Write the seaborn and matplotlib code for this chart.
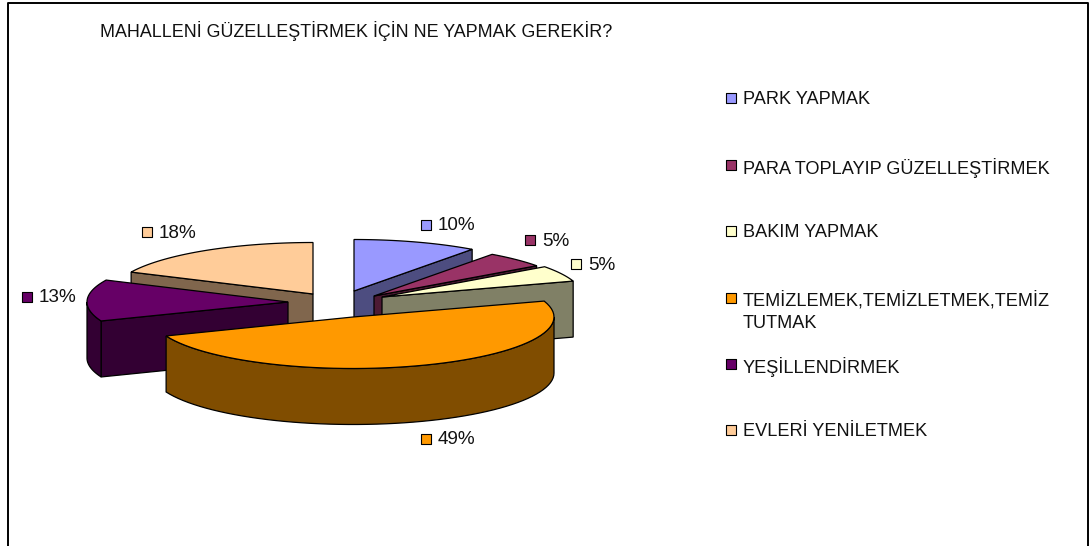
import matplotlib.pyplot as plt
import numpy as np
import seaborn as sns
from matplotlib.patches import Polygon

categories = [
    "PARK YAPMAK",
    "PARA TOPLAYIP GÜZELLEŞTİRMEK",
    "BAKIM YAPMAK",
    "TEMİZLEMEK,TEMİZLETMEK,TEMİZ\nTUTMAK",
    "YEŞİLLENDİRMEK",
    "EVLERİ YENİLETMEK",
]
shares = [10, 5, 5, 49, 13, 18]
colors = ["#9999FF", "#993366", "#FFFFCC", "#FF9900", "#660066", "#FFCC99"]
title = "MAHALLENİ GÜZELLEŞTİRMEK İÇİN NE YAPMAK GEREKİR?"

# layout in image pixels, y going down
apexes = [(354, 291), (374, 296), (382, 297), (353, 317), (288, 302), (313, 294)]
draw_order = [5, 0, 1, 2, 4, 3]
rx, ry, depth = 201, 51.5, 56
label_pos = [(426, 225), (530, 240), (576, 264), (426, 439), (27, 297), (147, 232)]
legend_y = [98, 165, 231, 298, 364, 430]


def rim(apex, start, end, n=60):
    # points on the top ellipse, angles clockwise from 12 o'clock
    ang = np.radians(np.linspace(start, end, n))
    return np.column_stack([apex[0] + rx * np.sin(ang), apex[1] - ry * np.cos(ang)])


def face(ax, pts, color):
    ax.add_patch(Polygon(pts, closed=True, facecolor=color, edgecolor="black", linewidth=0.9))


def main():
    sns.set_theme(style="white")
    plt.rcParams["font.family"] = ["Liberation Sans", "DejaVu Sans"]

    fig = plt.figure(figsize=(10.89, 5.46), dpi=100)
    ax = fig.add_axes([0, 0, 1, 1])
    palette = sns.color_palette(colors)

    edges = np.cumsum([0] + shares) * 3.6
    drop = np.array([0, depth])

    for i in draw_order:
        start, end = edges[i], edges[i + 1]
        apex = np.array(apexes[i])
        dark = np.array(palette[i]) * 0.5

        # the radial wall that faces the viewer
        if end < 180 or start > 180:
            tip = rim(apex, end, end, 1)[0] if end < 180 else rim(apex, start, start, 1)[0]
            face(ax, [apex, tip, tip + drop, apex + drop], dark)

        # outer wall, only the front half of the ellipse is visible
        lo, hi = max(start, 90), min(end, 270)
        if lo < hi:
            arc = rim(apex, lo, hi)
            face(ax, np.vstack([arc, arc[::-1] + drop]), dark)

        top = np.vstack([apex, rim(apex, start, end)])
        face(ax, top, palette[i])

    # data label keys
    sns.scatterplot(
        x=[p[0] for p in label_pos],
        y=[p[1] for p in label_pos],
        hue=categories,
        palette=colors,
        marker="s",
        s=62,
        edgecolor="black",
        linewidth=0.8,
        legend=False,
        ax=ax,
    )
    for (x, y), share in zip(label_pos, shares):
        ax.text(x + 12, y + 1, f"{share}%", fontsize=13.6, color="#111111", va="center", ha="left")

    # legend is spaced by hand, the wrapped entry breaks a regular spacing
    sns.scatterplot(
        x=[731] * len(categories),
        y=legend_y,
        hue=categories,
        palette=colors,
        marker="s",
        s=62,
        edgecolor="black",
        linewidth=0.8,
        legend=False,
        ax=ax,
    )
    for y, name in zip(legend_y, categories):
        ax.text(743, y - 7, name, fontsize=13.1, color="#111111", va="top", ha="left", linespacing=1.45)

    ax.text(100, 31, title, fontsize=12.88, color="#111111", va="center", ha="left")

    # chart frame, cut off at the bottom of the image
    ax.plot([8, 8, 1088, 1088], [546, 3, 3, 546], color="black", linewidth=1.4)

    ax.set_xlim(0, 1089)
    ax.set_ylim(546, 0)
    ax.axis("off")

    fig.savefig("out.png", dpi=100)


if __name__ == "__main__":
    main()
